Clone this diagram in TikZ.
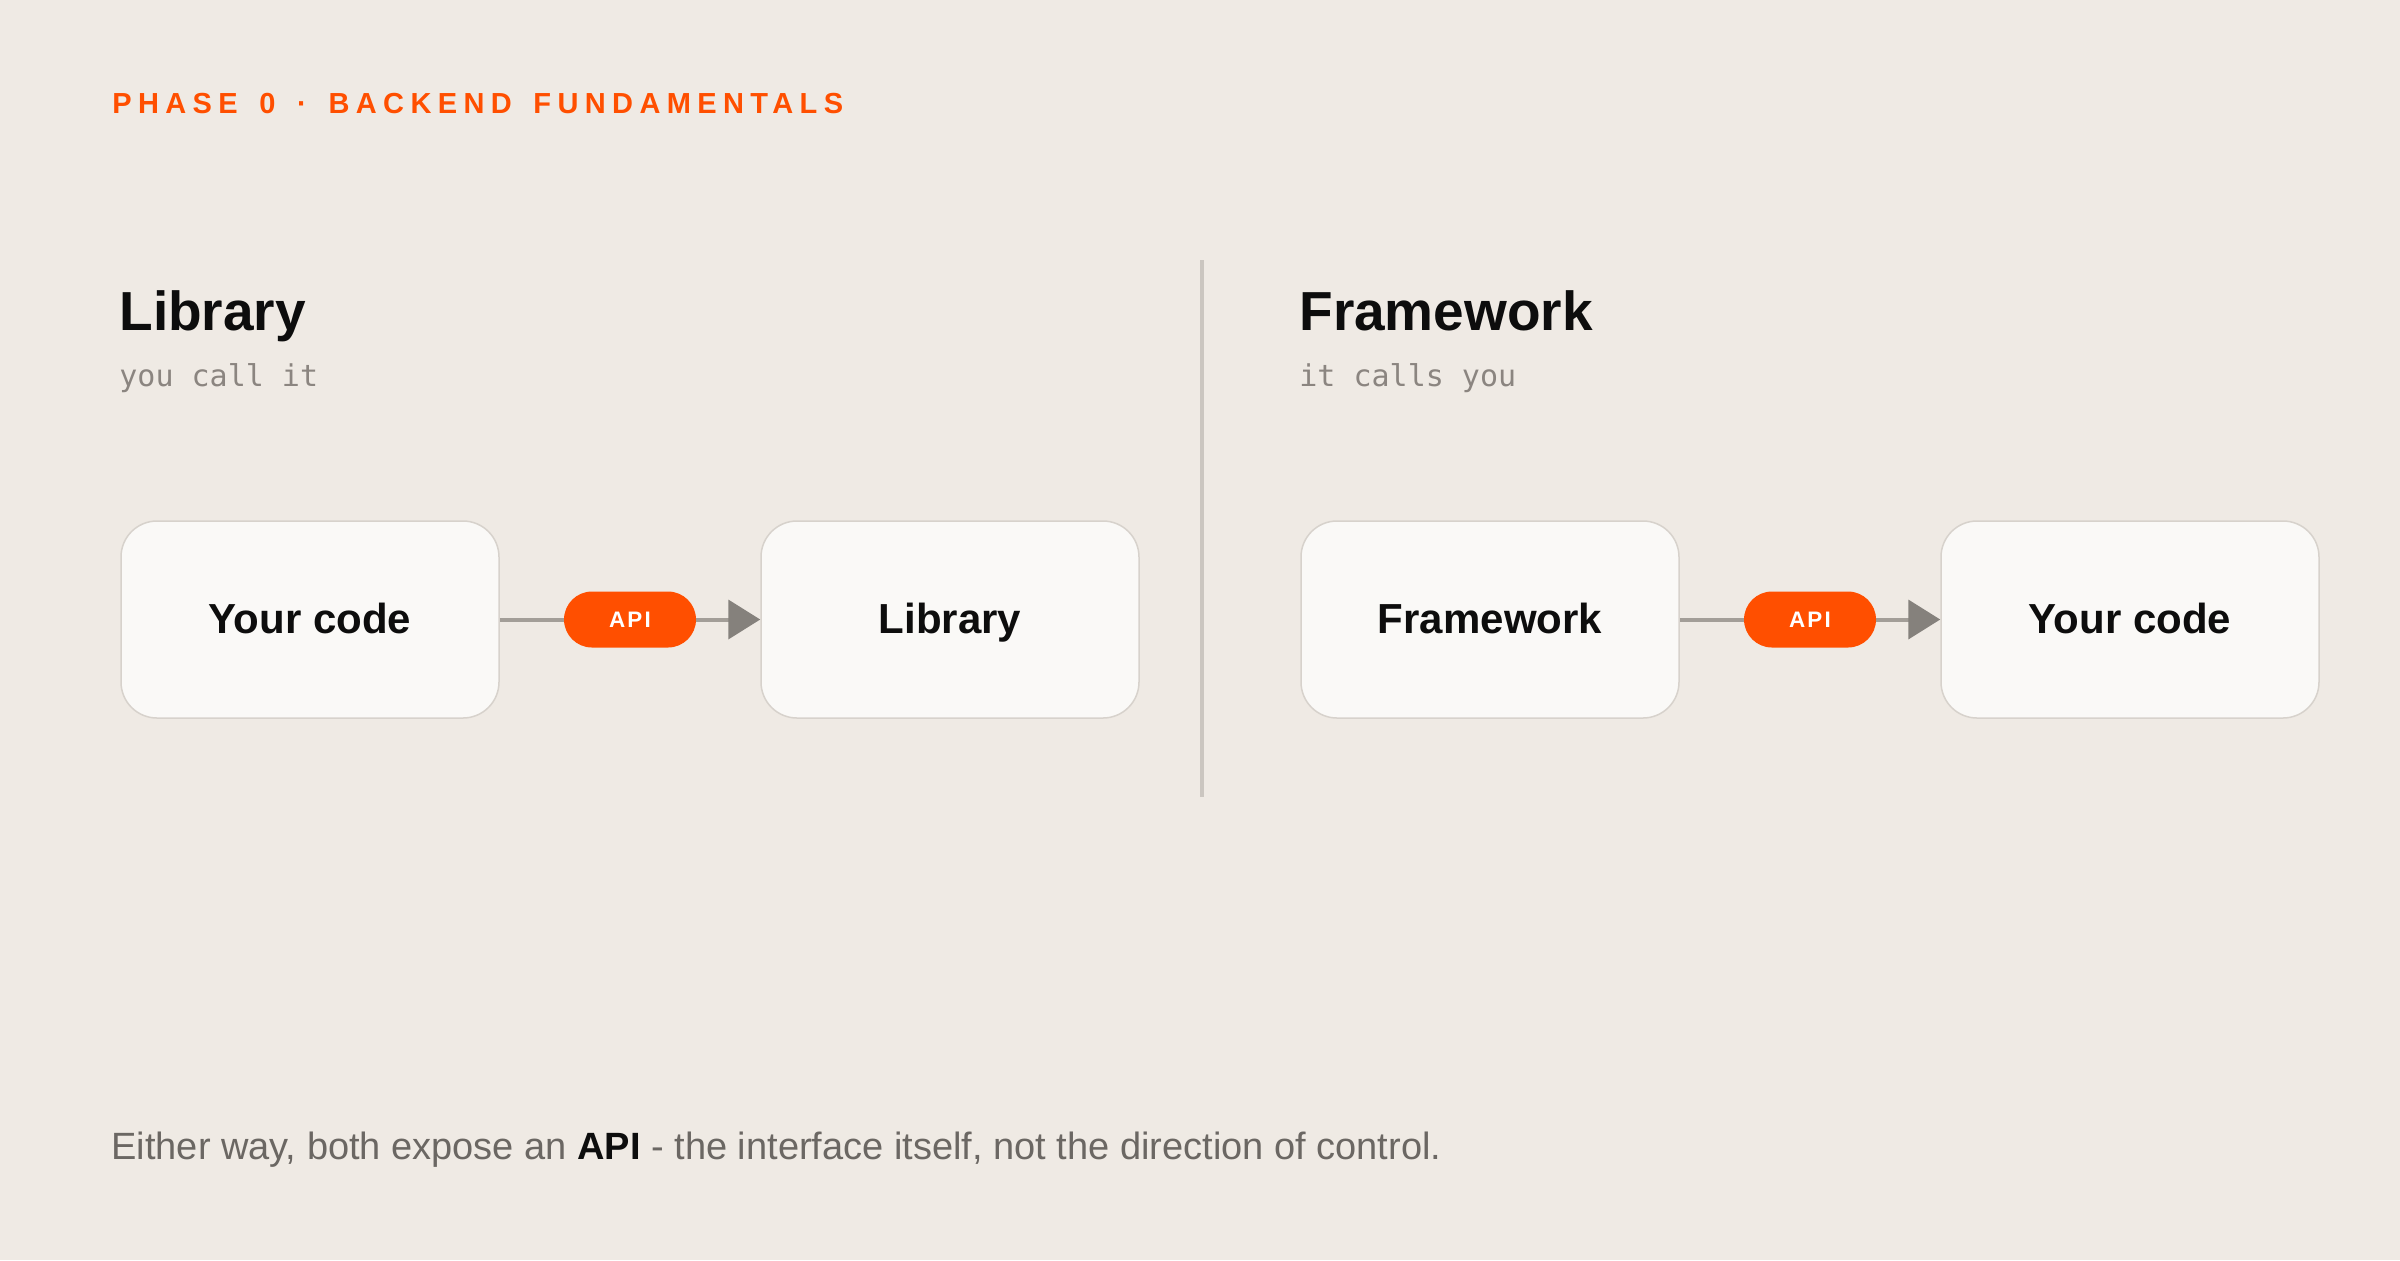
\documentclass[tikz,border=0pt]{standalone}
\usepackage{fontspec}
\setmainfont{Liberation Sans}
\setmonofont{DejaVu Sans Mono}
\newfontfamily\spacedfont[LetterSpace=22,WordSpace=1.5]{Liberation Sans}
\newfontfamily\pillfont[LetterSpace=10]{Liberation Sans}
\usetikzlibrary{arrows.meta}
\definecolor{paper}{HTML}{EFEAE4}
\definecolor{card}{HTML}{FAF9F7}
\definecolor{edge}{HTML}{D7D2CC}
\definecolor{accent}{HTML}{FF4F00}
\definecolor{ink}{HTML}{0D0D0D}
\definecolor{muted}{HTML}{8B8580}
\definecolor{wire}{HTML}{A39E98}
\definecolor{tipc}{HTML}{85817C}
\definecolor{rule}{HTML}{CBC6C0}
\definecolor{footc}{HTML}{6B6763}
\begin{document}
\begin{tikzpicture}[x=0.5pt,y=-0.5pt,
  box/.style={draw=edge, fill=card, line width=0.75pt, rounded corners=18pt,
    minimum width=189pt, minimum height=98.5pt, text=ink,
    text height=13.5pt, text depth=0pt,
    font=\bfseries\fontsize{21}{24}\selectfont},
  pill/.style={fill=accent, rounded corners=14pt, minimum width=66pt,
    minimum height=28pt, inner sep=0pt, text=white,
    font=\pillfont\bfseries\fontsize{11.2}{13}\selectfont},
  link/.style={draw=wire, line width=2pt,
    -{Triangle[length=16pt,width=19.5pt,color=tipc]}},
  title/.style={anchor=base west, inner sep=0pt, text=ink,
    font=\bfseries\fontsize{27.5}{33}\selectfont},
  note/.style={anchor=base west, inner sep=0pt, text=muted,
    font=\ttfamily\fontsize{15}{18}\selectfont}]
\fill [paper] (0,0) rectangle (2400,1260);
\useasboundingbox (0,0) rectangle (2400,1260);

\node [anchor=base west, inner sep=0pt, text=accent,
  font=\spacedfont\bfseries\fontsize{14.5}{17}\selectfont] (phase) at (112,113)
  {PHASE 0 · BACKEND FUNDAMENTALS};

% library side
\node [title] (libtitle) at (119,330) {Library};
\node [note] (libnote) at (119,386) {you call it};
\node [box] (code1) at (310,619.5) {Your code};
\node [box] (lib) at (950,619.5) {Library};
\draw [link] (code1.east) -- node [pill] (api1) {API} (lib.west);

% divider
\coordinate (top) at (1202,260);
\coordinate (bot) at (1202,797);
\draw [rule, line width=2pt] (top) -- (bot);

% framework side
\node [title] (fwtitle) at (1299,330) {Framework};
\node [note] (fwnote) at (1299,386) {it calls you};
\node [box] (fw) at (1490,619.5) {Framework};
\node [box] (code2) at (2130,619.5) {Your code};
\draw [link] (fw.east) -- node [pill] (api2) {API} (code2.west);

\node [anchor=base west, inner sep=0pt, text=footc,
  font=\fontsize{19}{22}\selectfont] (foot) at (111,1159)
  {Either way, both expose an \textcolor{ink}{\bfseries API} - the interface itself, not the direction of control.};
\end{tikzpicture}
\end{document}
